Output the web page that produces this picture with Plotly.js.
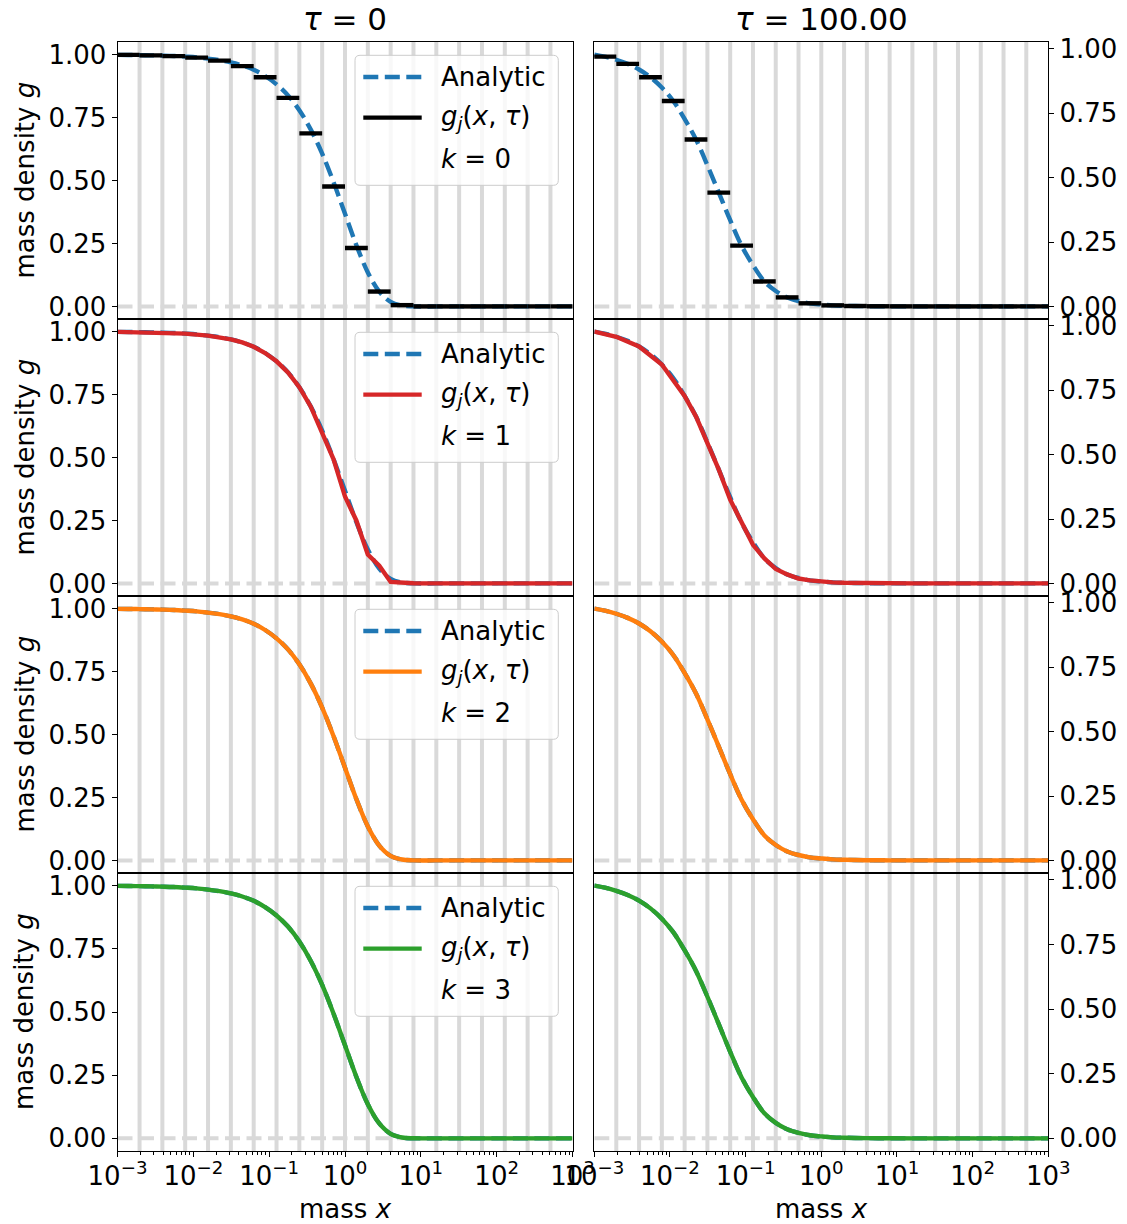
<!DOCTYPE html>
<html><head><meta charset="utf-8">
<script src="https://cdn.plot.ly/plotly-3.0.1.min.js"></script>
<style>html,body{margin:0;padding:0;background:#fff}#chart{width:1127px;height:1224px}</style>
</head><body><div id="chart"></div>
<script>
// ---------------- data ----------------
const columnTitles = ['<i>τ</i> = 0', '<i>τ</i> = 100.00'];
const orderLabels = ['<i>k</i> = 0', '<i>k</i> = 1', '<i>k</i> = 2', '<i>k</i> = 3'];
const orderColors = ['#000000', '#d62728', '#ff7f0e', '#2ca02c'];
const legendNames = ['Analytic', '<i>g</i><sub><i>j</i></sub>(<i>x</i>, <i>τ</i>)'];
const yTitle = 'mass density <i>g</i>';
const xTitle = 'mass <i>x</i>';
const xTickVals = [0.001, 0.01, 0.1, 1, 10, 100, 1000];
const xTickText = ['10<sup>−3</sup>', '10<sup>−2</sup>', '10<sup>−1</sup>', '10<sup>0</sup>', '10<sup>1</sup>', '10<sup>2</sup>', '10<sup>3</sup>'];
const xMinorTicks = [0.002,0.003,0.004,0.005,0.006,0.007,0.008,0.009,
  0.02,0.03,0.04,0.05,0.06,0.07,0.08,0.09, 0.2,0.3,0.4,0.5,0.6,0.7,0.8,0.9,
  2,3,4,5,6,7,8,9, 20,30,40,50,60,70,80,90, 200,300,400,500,600,700,800,900];
const yTickVals = [0, 0.25, 0.5, 0.75, 1];
const yTickText = ['0.00', '0.25', '0.50', '0.75', '1.00'];

// bin edges (grey bands) and piecewise-constant (k=0) bin values
const binEdges = [0.0009765625, 0.001953125, 0.00390625, 0.0078125, 0.015625, 0.03125, 0.0625, 0.125,
  0.25, 0.5, 1, 2, 4, 8, 16, 32, 64, 128, 256, 512, 1024];
const stepsTau0 = [0.999, 0.997, 0.994, 0.988, 0.976, 0.954, 0.910, 0.828, 0.687, 0.476,
  0.232, 0.059, 0.005, 0, 0, 0, 0, 0, 0, 0];
const stepsTau100 = [0.970, 0.942, 0.890, 0.798, 0.648, 0.442, 0.236, 0.097, 0.035, 0.012,
  0.004, 0.0015, 0.0005, 0.0002, 0, 0, 0, 0, 0, 0];

// analytic curves
const curveX = [0.001, 0.00138, 0.00195, 0.00276, 0.0039, 0.00552, 0.0078, 0.01105, 0.0156, 0.0221,
  0.03125, 0.0442, 0.0625, 0.0884, 0.125, 0.177, 0.25, 0.354, 0.5, 0.707,
  1, 1.41, 2, 2.83, 4, 5.66, 8, 16, 64, 1000];
const analyticTau0 = [0.999, 0.9986, 0.998, 0.997, 0.996, 0.9945, 0.992, 0.989, 0.984, 0.978,
  0.969, 0.957, 0.940, 0.915, 0.882, 0.838, 0.779, 0.702, 0.607, 0.493,
  0.368, 0.244, 0.135, 0.059, 0.018, 0.0035, 0.0003, 0, 0, 0];
const analyticTau100 = [0.978, 0.970, 0.958, 0.942, 0.920, 0.890, 0.850, 0.798, 0.728, 0.648,
  0.548, 0.442, 0.335, 0.236, 0.160, 0.097, 0.060, 0.035, 0.021, 0.012,
  0.0075, 0.004, 0.0025, 0.0015, 0.0009, 0.0005, 0.0003, 0.0001, 0, 0];

// piecewise-linear (k=1) reconstruction
const linX = [0.001, 0.00195, 0.0039, 0.0078, 0.0156, 0.0221, 0.03125, 0.0442, 0.0625, 0.0884,
  0.125, 0.177, 0.25, 0.354, 0.5, 0.707, 1, 1.41, 2, 2.83, 4, 5.66, 8, 16, 1000];
const linTau0 = [0.999, 0.998, 0.996, 0.992, 0.984, 0.978, 0.969, 0.957, 0.940, 0.915,
  0.882, 0.838, 0.779, 0.702, 0.600, 0.493, 0.345, 0.250, 0.115, 0.070, 0.006, 0.003, 0.0005, 0, 0];
const linTau100 = [0.978, 0.958, 0.920, 0.850, 0.728, 0.648, 0.545, 0.442, 0.325, 0.236,
  0.150, 0.097, 0.056, 0.035, 0.019, 0.012, 0.007, 0.004, 0.0025, 0.0015, 0.0009, 0.0005, 0.0003, 0.0001, 0];

// ---------------- layout geometry ----------------
const W = 1127, H = 1224;
const rowTopPx = [42, 319, 596, 873], rowBotPx = [319, 596, 873, 1151];
const colLeftPx = [117.5, 594.3], colRightPx = [572.5, 1048.3];
const yRanges = [[-0.05, 1.05], [-0.0489, 1.0269]];
const FONT = 'DejaVu Sans, Liberation Sans, sans-serif';
const BLUE = '#1f77b4', GREY = '#d9d9d9';
const DASH = '15px,6.5px';
const LW = 4.4;

const analyticCols = [analyticTau0, analyticTau100];
const stepCols = [stepsTau0, stepsTau100];
const linCols = [linTau0, linTau100];

const px = v => v / W, py = v => 1 - v / H;

const traces = [], shapes = [], annotations = [];
const layout = {
  width: W, height: H, margin: {l: 0, r: 0, t: 0, b: 0},
  paper_bgcolor: '#fff', plot_bgcolor: '#fff', showlegend: false,
  font: {family: FONT, size: 26, color: '#000'}
};

function stepXY(edges, vals) {
  const xs = [], ys = [];
  for (let i = 0; i < vals.length; i++) {
    xs.push(edges[i], edges[i + 1], null);
    ys.push(vals[i], vals[i], null);
  }
  return {xs, ys};
}

for (let r = 0; r < 4; r++) {
  for (let c = 0; c < 2; c++) {
    const i = r * 2 + c + 1;
    const xa = 'x' + (i === 1 ? '' : i), ya = 'y' + (i === 1 ? '' : i);
    const xKey = 'xaxis' + (i === 1 ? '' : i), yKey = 'yaxis' + (i === 1 ? '' : i);
    const bottom = r === 3;
    layout[xKey] = {
      type: 'log', range: [-3, 3], domain: [px(colLeftPx[c]), px(colRightPx[c])], anchor: ya,
      showline: true, mirror: true, linecolor: '#000', linewidth: 1,
      showgrid: false, zeroline: false,
      ticks: bottom ? 'outside' : '', ticklen: 5, tickwidth: 1, tickcolor: '#000',
      tickmode: 'array', tickvals: xTickVals, ticktext: xTickText,
      showticklabels: bottom, tickfont: {size: 26, family: FONT}, ticklabelstandoff: -3
    };
    if (bottom) {
      layout[xKey].minor = {tickmode: 'array', tickvals: xMinorTicks, ticks: 'outside', ticklen: 3, tickwidth: 1, tickcolor: '#000'};
    }
    layout[yKey] = {
      range: yRanges[c], domain: [py(rowBotPx[r]), py(rowTopPx[r])], anchor: xa,
      side: c === 0 ? 'left' : 'right',
      showline: true, mirror: true, linecolor: '#000', linewidth: 1,
      showgrid: false, zeroline: false,
      ticks: 'outside', ticklen: 5, tickwidth: 1, tickcolor: '#000',
      tickmode: 'array', tickvals: yTickVals, ticktext: yTickText,
      tickfont: {size: 26, family: FONT}, ticklabelstandoff: 0
    };

    // grey bands at bin edges
    binEdges.forEach(e => {
      if (e > 0.001 && e < 1000) {
        shapes.push({type: 'line', xref: xa, yref: ya + ' domain', x0: e, x1: e, y0: 0, y1: 1,
          line: {color: GREY, width: 4}, layer: 'below'});
      }
    });

    // zero reference line
    traces.push({type: 'scatter', mode: 'lines', xaxis: xa, yaxis: ya,
      x: [xTickVals[0], xTickVals[xTickVals.length - 1]], y: [0, 0],
      line: {color: GREY, width: 4, dash: DASH}, hoverinfo: 'skip'});

    // analytic
    traces.push({type: 'scatter', mode: 'lines', xaxis: xa, yaxis: ya, name: legendNames[0],
      x: curveX, y: analyticCols[c], line: {color: BLUE, width: LW, dash: DASH, shape: 'spline', smoothing: 1}});

    // numerical g_j
    let nx, ny, shape = 'linear';
    if (r === 0) { const s = stepXY(binEdges, stepCols[c]); nx = s.xs; ny = s.ys; }
    else if (r === 1) { nx = linX; ny = linCols[c]; }
    else { nx = curveX; ny = analyticCols[c]; shape = 'spline'; }
    traces.push({type: 'scatter', mode: 'lines', xaxis: xa, yaxis: ya, name: legendNames[1],
      x: nx, y: ny, connectgaps: false,
      line: {color: orderColors[r], width: LW, shape: shape, smoothing: 1}});

    // legend (left column only)
    if (c === 0) {
      const bx0 = 355, bx1 = 558.3, by0 = rowTopPx[r] + 13.3, by1 = by0 + 130, rad = 5;
      const P = (a, b) => px(a).toFixed(5) + ',' + py(b).toFixed(5);
      const path = 'M' + P(bx0 + rad, by0) + ' L' + P(bx1 - rad, by0) + ' Q' + P(bx1, by0) + ' ' + P(bx1, by0 + rad) +
        ' L' + P(bx1, by1 - rad) + ' Q' + P(bx1, by1) + ' ' + P(bx1 - rad, by1) +
        ' L' + P(bx0 + rad, by1) + ' Q' + P(bx0, by1) + ' ' + P(bx0, by1 - rad) +
        ' L' + P(bx0, by0 + rad) + ' Q' + P(bx0, by0) + ' ' + P(bx0 + rad, by0) + ' Z';
      shapes.push({type: 'path', xref: 'paper', yref: 'paper', path: path,
        fillcolor: 'rgba(255,255,255,0.8)', line: {color: '#cccccc', width: 1}, layer: 'above'});
      const rowsY = [by0 + 21.7, by0 + 62.3, by0 + 103.3];
      shapes.push({type: 'line', xref: 'paper', yref: 'paper', x0: px(363.3), x1: px(421.7), y0: py(rowsY[0]), y1: py(rowsY[0]),
        line: {color: BLUE, width: LW, dash: DASH}, layer: 'above'});
      shapes.push({type: 'line', xref: 'paper', yref: 'paper', x0: px(363.3), x1: px(421.7), y0: py(rowsY[1]), y1: py(rowsY[1]),
        line: {color: orderColors[r], width: LW}, layer: 'above'});
      const texts = [legendNames[0], legendNames[1], orderLabels[r]];
      texts.forEach((t, k) => annotations.push({xref: 'paper', yref: 'paper', x: px(438.5), y: py(rowsY[k]),
        xanchor: 'left', yanchor: 'middle', text: t, showarrow: false, font: {size: 26, family: FONT}}));
      // y-axis title
      annotations.push({xref: 'paper', yref: 'paper', x: px(24), y: py((rowTopPx[r] + rowBotPx[r]) / 2),
        xanchor: 'center', yanchor: 'middle', textangle: -90, text: yTitle, showarrow: false, font: {size: 26, family: FONT}});
    }
  }
}

// column titles & x-axis titles
for (let c = 0; c < 2; c++) {
  const cx = (colLeftPx[c] + colRightPx[c]) / 2;
  annotations.push({xref: 'paper', yref: 'paper', x: px(cx), y: py(19), xanchor: 'center', yanchor: 'middle',
    text: columnTitles[c], showarrow: false, font: {size: 31, family: FONT}});
  annotations.push({xref: 'paper', yref: 'paper', x: px(cx), y: py(1209), xanchor: 'center', yanchor: 'middle',
    text: xTitle, showarrow: false, font: {size: 26, family: FONT}});
}

layout.shapes = shapes;
layout.annotations = annotations;
Plotly.newPlot('chart', traces, layout, {staticPlot: true, displayModeBar: false});
</script></body></html>
